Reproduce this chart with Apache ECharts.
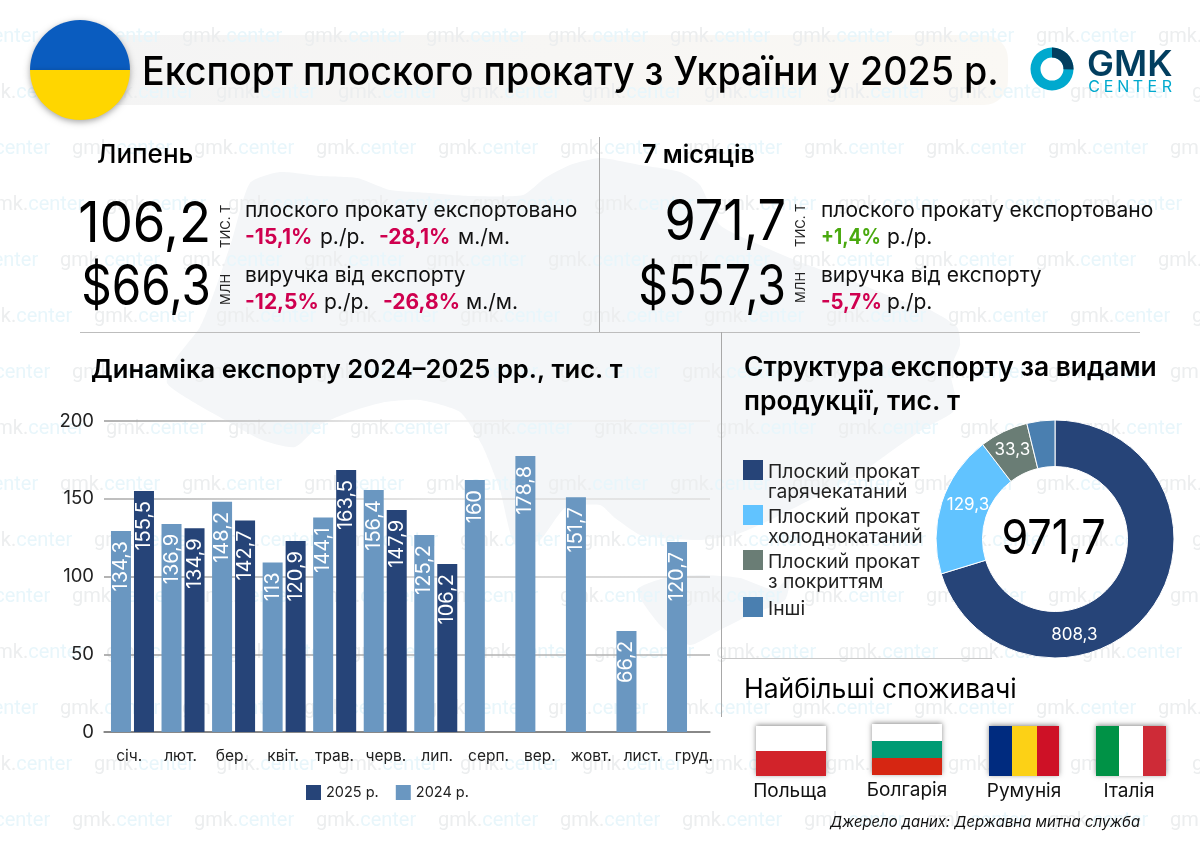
<!DOCTYPE html>
<html lang="uk">
<head>
<meta charset="utf-8">
<title>Експорт плоского прокату</title>
<style>html,body{margin:0;padding:0;background:#fff}#main{width:1200px;height:848px}</style>
<script src="https://cdn.jsdelivr.net/npm/echarts@6/dist/echarts.min.js"></script>
</head>
<body>
<div id="main"></div>
<script>
const months = ['січ.','лют.','бер.','квіт.','трав.','черв.','лип.','серп.','вер.','жовт.','лист.','груд.'];
// bar heights as drawn in the picture, printed labels kept apart (they differ a little)
const bars2024 = [129.2,133.8,148,109,138,155.6,126.7,162,177.5,151,65,122.2];
const bars2025 = [155,131,136,122.8,168.5,142.8,108,null,null,null,null,null];
const labels2024 = ['134,3','136,9','148,2','113','144,1','156,4','125,2','160','178,8','151,7','66,2','120,7'];
const labels2025 = ['155,5','134,9','142,7','120,9','163,5','147,9','106,2','','','','',''];

const pieNames = ['Плоский прокат\nгарячекатаний','Плоский прокат\nхолоднокатаний','Плоский прокат\nз покриттям','Інші'];
const pieShares = [683,188,64,37];      // slice sizes as drawn
const pieLabels = ['808,3','129,3','33,3',''];
const pieColors = ['#264478','#61c3ff','#6a7d75','#4a7fb0'];

const countries = ['Польща','Болгарія','Румунія','Італія'];

const FONT = 'Inter';
const main = echarts.init(document.getElementById('main'));
const g = [];

// y is the baseline of the text, sx squeezes it to the width in the picture
function text(x, y, str, size, weight, color, align, sx, italic){
    g.push({
        type: 'text', x: x, y: y - 0.27 * size, z: 10, scaleX: sx || 1,
        style: {text: str, font: (italic ? 'italic ' : '') + weight + ' ' + size + 'px ' + FONT, fill: color || '#000',
            align: align || 'left', verticalAlign: 'middle'}
    });
}
function rect(x, y, w, h, fill, z, extra){
    g.push({type:'rect', z: z === undefined ? 5 : z, shape: Object.assign({x:x,y:y,width:w,height:h}, extra && extra.shape),
        style: Object.assign({fill:fill}, extra && extra.style)});
}
function line(x1, y1, x2, y2, color){
    g.push({type:'line', z: 3, shape:{x1:x1,y1:y1,x2:x2,y2:y2}, style:{stroke:color,lineWidth:1}});
}

/******************* background *******************/
const mapOutline = [[250,183],[280,172],[320,176],[357,178],[390,190],[430,193],[470,196],[523,195],[545,178],[570,165],[600,158],[640,165],[680,172],[700,185],[720,225],[760,245],[800,262],[850,280],[900,300],[930,310],[957,327],[960,345],[950,370],[955,395],[953,412],[925,428],[900,445],[865,470],[830,490],[800,505],[770,520],[735,535],[700,540],[660,538],[640,535],[615,518],[600,505],[565,508],[540,540],[515,545],[500,490],[482,445],[460,412],[420,400],[385,402],[350,412],[320,425],[295,447],[262,440],[225,420],[190,400],[167,383],[175,360],[200,327],[215,290],[232,240]];
const crimeaOutline = [[637,590],[665,578],[700,575],[740,578],[775,590],[790,575],[785,600],[750,615],[720,630],[690,645],[660,625]];
g.push({type:'polygon', z:-5, shape:{points:mapOutline, smooth:0.2}, style:{fill:'#f4f6f8'}});
g.push({type:'polygon', z:-5, shape:{points:crimeaOutline, smooth:0.2}, style:{fill:'#f4f6f8'}});

rect(100, 35, 908, 70, new echarts.graphic.LinearGradient(0,0,1,0,[{offset:0,color:'#f4f4f4'},{offset:1,color:'#faf8f4'}]), -4, {shape:{r:[0,24,24,0]}});

// repeated watermark
const wmStart = [182,216,194,228];
for (let r = 0; r < 15; r++){
    for (let k = -2; k < 9; k++){
        g.push({type:'text', z:-3, x: wmStart[r % 4] + k * 122, y: 37 + r * 56, style:{
            text:'{a|gmk.}{b|center}', verticalAlign:'middle',
            rich:{a:{fill:'#eceeef',font:'400 20px Roboto'},b:{fill:'#e8f6fb',font:'400 20px Roboto'}}
        }});
    }
}

/******************* header *******************/
g.push({type:'sector', z:6, shape:{cx:80,cy:70,r:50,startAngle:Math.PI,endAngle:0}, style:{fill:'#0a5cbf',shadowBlur:6,shadowColor:'rgba(0,0,0,.35)',shadowOffsetY:2}});
g.push({type:'sector', z:6, shape:{cx:80,cy:70,r:50,startAngle:0,endAngle:Math.PI}, style:{fill:'#ffd600',shadowBlur:6,shadowColor:'rgba(0,0,0,.35)',shadowOffsetY:2}});
text(142, 84, 'Експорт плоского прокату з України у 2025 р.', 39.5, 500, '#000', 'left', 0.953);

// logo
g.push({type:'ring', z:6, shape:{cx:1052,cy:69,r:21.5,r0:11.5}, style:{fill:'#00a9ce'}});
g.push({type:'sector', z:7, shape:{cx:1052,cy:69,r:21.5,r0:11.5,startAngle:-Math.PI/2,endAngle:0.02}, style:{fill:'#023e5f'}});
text(1087, 75, 'GMK', 36, 600, '#023e5f');
'CENTER'.split('').forEach(function(c, i){
    text(1094 + i * 14.6, 92, c, 16, 400, '#00a9ce', 'center');
});

/******************* top summary *******************/
const RED = '#cf004f', GREEN = '#4aa90f';
text(97, 162, 'Липень', 26, 500);
text(642, 162, '7 місяців', 25, 600);

text(211, 240, '106,2', 56, 400, '#000', 'right', 0.94);
text(211, 303, '$66,3', 56, 400, '#000', 'right', 0.85);
text(786, 238, '971,7', 56, 400, '#000', 'right', 0.9);
text(786, 303, '$557,3', 56, 400, '#000', 'right', 0.83);

function vertical(x, y, str){
    g.push({type:'text', z:10, x:x, y:y, rotation:Math.PI/2, style:{text:str, font:'400 13px '+FONT, fill:'#222',
        align:'left', verticalAlign:'middle'}});
}
vertical(226, 248, 'ТИС. Т');
vertical(226, 305, 'МЛН');
vertical(801, 247, 'ТИС. Т');
vertical(801, 303, 'МЛН');

text(245, 216, 'плоского прокату експортовано', 21, 400, '#111');
text(245, 243, '-15,1%', 21, 700, RED);
text(320, 243, 'р./р.', 21, 400, '#111');
text(379, 243, '-28,1%', 21, 700, RED);
text(458, 243, 'м./м.', 21, 400, '#111');
text(245, 281, 'виручка від експорту', 21, 400, '#111');
text(245, 308, '-12,5%', 21, 700, RED);
text(324, 308, 'р./р.', 21, 400, '#111');
text(383, 308, '-26,8%', 21, 700, RED);
text(466, 308, 'м./м.', 21, 400, '#111');

text(821, 216, 'плоского прокату експортовано', 21, 400, '#111');
text(821, 243, '+1,4%', 21, 700, GREEN, 'left', 0.91);
text(887, 243, 'р./р.', 21, 400, '#111');
text(821, 281, 'виручка від експорту', 21, 400, '#111');
text(821, 308, '-5,7%', 21, 700, RED, 'left', 0.97);
text(887, 308, 'р./р.', 21, 400, '#111');

line(80, 332.5, 1140, 332.5, '#bdbdbd');
line(599.5, 137, 599.5, 332, '#aaaaaa');
line(721.5, 332, 721.5, 717, '#a8a8a8');
line(721, 658.5, 992, 658.5, '#c8c8c8');

text(91, 377, 'Динаміка експорту 2024–2025 рр., тис. т', 25.6, 600);
text(744, 375, 'Структура експорту за видами', 26.4, 600);
text(744, 409, 'продукції, тис. т', 26.4, 600);

/******************* pie legend *******************/
const legendTop = [460,505,550,597];
pieNames.forEach(function(name, i){
    rect(743, legendTop[i], 20, 20, pieColors[i], 6);
    name.split('\n').forEach(function(part, j){
        text(768, legendTop[i] + 17 + j * 20, part, 19.3, 400, '#222');
    });
});
text(1053.5, 553, '971,7', 48, 400, '#000', 'center', 0.9);

/******************* consumers *******************/
text(744, 697, 'Найбільші споживачі', 26.5, 400);
const flagCentre = [790,907,1024,1129];
const flagShadow = {shadowBlur:5, shadowColor:'rgba(0,0,0,.45)', shadowOffsetY:-1};
rect(756,726,70,50,'#fff',4,{style:flagShadow});
rect(872,724,70,51,'#fff',4,{style:flagShadow});
rect(989,726,70,50,'#002b7f',4,{style:flagShadow});
rect(1096,726,70,50,'#fff',4,{style:flagShadow});
rect(756,751,70,25,'#d2232a');
rect(872,741,70,17,'#009b74'); rect(872,758,70,17,'#d62612');
rect(1012,726,25,50,'#fcd116'); rect(1037,726,22,50,'#ce1126');
rect(1096,726,23,50,'#009246'); rect(1143,726,23,50,'#ce2b37');
countries.forEach(function(c, i){
    text(flagCentre[i], i === 1 ? 795 : 796, c, 19, 400, '#111', 'center');
});
text(830, 827, 'Джерело даних: Державна митна служба', 15, 400, '#111', 'left', 0.99, true);

/******************* chart option *******************/
function fade(a, b){
    return new echarts.graphic.LinearGradient(104, 0, 710, 0, [{offset:0,color:a},{offset:0.55,color:b},{offset:1,color:b}], true);
}
const barLabel = {show:true, position:'insideTop', distance:10, rotate:90, align:'right', verticalAlign:'middle',
    color:'#fff', fontFamily:FONT, fontSize:20, fontWeight:400};

main.setOption({
    animation: false,
    backgroundColor: '#fff',
    textStyle: {fontFamily: FONT},
    graphic: {elements: g},
    grid: [
        {left:107.2, top:421, width:606.6, height:311},   // bars
        {left:104, top:421, width:606, height:311},       // lines and y labels
        {left:103.5, top:421, width:616, height:311}      // month labels
    ],
    xAxis: [
        {type:'category', gridIndex:0, data:months, axisLine:{show:false}, axisTick:{show:false}, axisLabel:{show:false}},
        {type:'category', gridIndex:1, data:months, axisTick:{show:false}, axisLabel:{show:false},
            axisLine:{lineStyle:{color:'#808080',width:1.5}}},
        {type:'category', gridIndex:2, data:months, axisLine:{show:false}, axisTick:{show:false},
            axisLabel:{show:true, interval:0, margin:16, color:'#222', fontSize:15.5, fontFamily:FONT}}
    ],
    yAxis: [
        {type:'value', gridIndex:0, min:0, max:200, interval:50, show:false},
        {type:'value', gridIndex:1, min:0, max:200, interval:50, axisLine:{show:false}, axisTick:{show:false},
            axisLabel:{margin:10, color:'#222', fontSize:18.5, fontFamily:FONT},
            splitLine:{show:true, lineStyle:{width:1.5, color:[
                '#808080', fade('#999999','#b2b2b2'), fade('#999999','#cccccc'), fade('#a8a8a8','#dedede'), fade('#999999','#eeeeee')
            ]}}},
        {type:'value', gridIndex:2, min:0, max:200, show:false}
    ],
    legend: {
        left:306, top:785, padding:0, itemWidth:15, itemHeight:15, itemGap:17, icon:'rect',
        data:['2025 р.','2024 р.'],
        textStyle:{color:'#222', fontSize:14.5, fontFamily:FONT}
    },
    series: [
        {name:'2024 р.', type:'bar', xAxisIndex:0, yAxisIndex:0, data:bars2024, barWidth:20, barGap:'15%',
            itemStyle:{color:'#6a97c1'},
            label:Object.assign({}, barLabel, {formatter:function(p){return labels2024[p.dataIndex];}})},
        {name:'2025 р.', type:'bar', xAxisIndex:0, yAxisIndex:0, data:bars2025, barWidth:20,
            itemStyle:{color:'#264478'},
            label:Object.assign({}, barLabel, {formatter:function(p){return labels2025[p.dataIndex];}})},
        {type:'pie', center:[1055,539], radius:[72.5,119], startAngle:90, clockwise:true, silent:true,
            itemStyle:{borderColor:'#fff', borderWidth:1},
            labelLine:{show:false},
            label:{show:true, position:'inside', color:'#fff', fontFamily:FONT, fontSize:17, formatter:function(p){return pieLabels[p.dataIndex];}},
            data: pieShares.map(function(v, i){
                const item = {value:v, name:pieNames[i], itemStyle:{color:pieColors[i]}};
                if (i === 0) item.label = {offset:[-60,37]};
                if (i === 1) item.label = {offset:[7,-4]};
                return item;
            })
        }
    ]
});
</script>
</body>
</html>
